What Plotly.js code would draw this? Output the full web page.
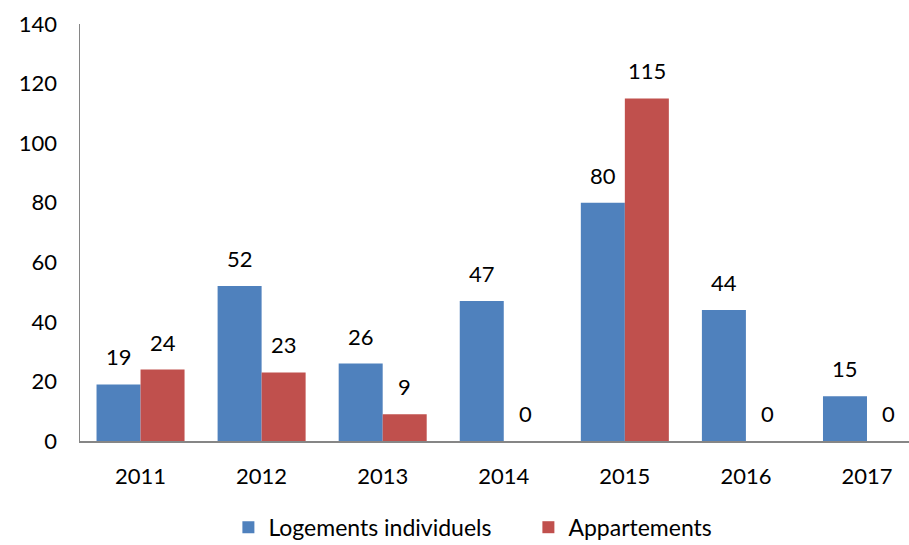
<!DOCTYPE html>
<html>
<head>
<meta charset="utf-8">
<script src="https://cdn.plot.ly/plotly-3.0.1.min.js"></script>
<style>html,body{margin:0;padding:0;background:#fff;}#chart{width:909px;height:545px;}</style>
</head>
<body>
<div id="chart"></div>
<script>
var years = ["2011", "2012", "2013", "2014", "2015", "2016", "2017"];
var individuels = [19, 52, 26, 47, 80, 44, 15];
var appartements = [24, 23, 9, 0, 115, 0, 0];
var seriesNames = ["Logements individuels", "Appartements"];
var yTicks = [0, 20, 40, 60, 80, 100, 120, 140];

var FONT = "Lato, 'Noto Sans', sans-serif";
var BLUE = "#4F81BD", RED = "#C0504D";

var traces = [
  {type: "bar", name: seriesNames[0], x: years, y: individuels, marker: {color: BLUE}, hoverinfo: "x+y"},
  {type: "bar", name: seriesNames[1], x: years, y: appartements, marker: {color: RED}, hoverinfo: "x+y"}
];

var annotations = [];
var offset = 22;
[individuels, appartements].forEach(function (vals, s) {
  vals.forEach(function (v, i) {
    annotations.push({
      x: i, y: v, xref: "x", yref: "y",
      text: String(v), showarrow: false,
      xanchor: "center", yanchor: "bottom",
      xshift: s === 0 ? -offset : offset, yshift: 12,
      font: {family: FONT, size: 22, color: "#000"}
    });
  });
});

var layout = {
  width: 909, height: 545,
  margin: {l: 80, r: 0, t: 24, b: 104},
  paper_bgcolor: "#fff", plot_bgcolor: "#fff",
  barmode: "group", bargap: 0.273, bargroupgap: 0,
  font: {family: FONT, size: 22, color: "#000"},
  xaxis: {
    type: "category", range: [-0.5, 6.347], automargin: false,
    showline: true, linecolor: "#868686", linewidth: 1.5,
    showgrid: false, zeroline: false, ticks: "",
    ticklabelstandoff: 15,
    tickfont: {family: FONT, size: 22, color: "#000"}
  },
  yaxis: {
    range: [0, 140], tickvals: yTicks, automargin: false,
    showline: true, linecolor: "#868686", linewidth: 1.5,
    showgrid: false, zeroline: false, ticks: "",
    ticklabelstandoff: 17,
    tickfont: {family: FONT, size: 22, color: "#000"}
  },
  showlegend: true,
  legend: {
    orientation: "h", x: 0.179, xanchor: "left",
    yref: "container", y: 0.072, yanchor: "top",
    font: {family: FONT, size: 23, color: "#000"},
    traceorder: "normal", itemwidth: 30, entrywidth: 255
  },
  annotations: annotations
};

Plotly.newPlot("chart", traces, layout, {displayModeBar: false, staticPlot: true});
</script>
</body>
</html>
